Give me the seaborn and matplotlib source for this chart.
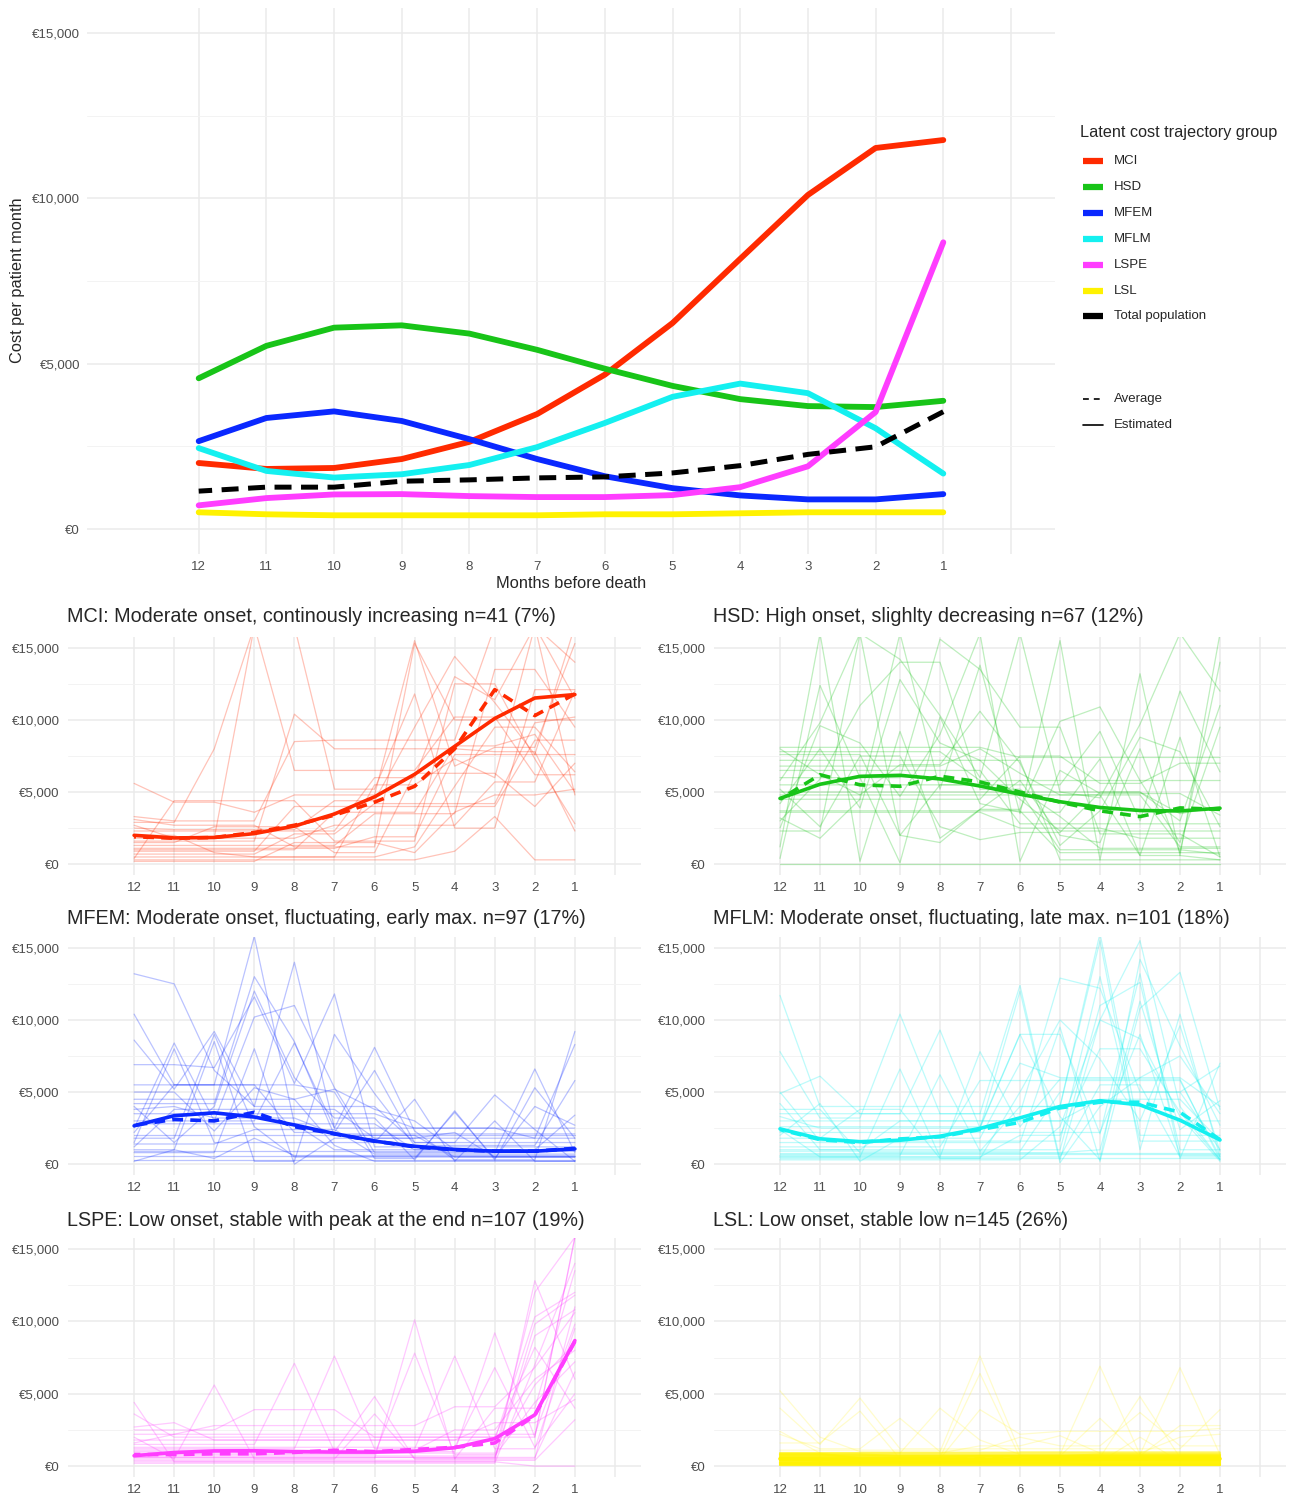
import pandas as pd
import matplotlib
matplotlib.use("Agg")
import matplotlib.pyplot as plt
from matplotlib.lines import Line2D
from matplotlib.ticker import FuncFormatter, FixedLocator
import seaborn as sns

MONTHS = [12, 11, 10, 9, 8, 7, 6, 5, 4, 3, 2, 1]
GROUPS = ["MCI", "HSD", "MFEM", "MFLM", "LSPE", "LSL"]
COLORS = {"MCI": "#FF2A00", "HSD": "#18C418", "MFEM": "#0A28FF",
          "MFLM": "#14F0F0", "LSPE": "#FF3DFF", "LSL": "#FFF200"}
TITLES = {
    "MCI": "MCI: Moderate onset, continously increasing n=41 (7%)",
    "HSD": "HSD: High onset, slighlty decreasing n=67 (12%)",
    "MFEM": "MFEM: Moderate onset, fluctuating, early max. n=97 (17%)",
    "MFLM": "MFLM: Moderate onset, fluctuating, late max. n=101 (18%)",
    "LSPE": "LSPE: Low onset, stable with peak at the end n=107 (19%)",
    "LSL": "LSL: Low onset, stable low n=145 (26%)",
}
LEGEND_LABELS = ["MCI", "HSD", "MFEM", "MFLM", "LSPE", "LSL", "Total population"]

# estimated cost trajectories, euro per patient month (month 12 -> 1)
EST_MCI = [2000, 1820, 1850, 2120, 2640, 3480, 4670, 6230, 8170, 10100, 11520, 11760]
EST_HSD = [4560, 5540, 6090, 6160, 5910, 5420, 4850, 4330, 3930, 3720, 3690, 3880]
EST_MFEM = [2660, 3360, 3560, 3270, 2720, 2120, 1600, 1240, 1020, 900, 900, 1060]
EST_MFLM = [2450, 1760, 1560, 1660, 1940, 2480, 3210, 4000, 4400, 4110, 3050, 1680]
EST_LSPE = [720, 940, 1050, 1060, 1000, 970, 970, 1030, 1270, 1900, 3540, 8670]
EST_LSL = [510, 450, 420, 420, 420, 420, 450, 450, 480, 510, 510, 510]
AVG_TOTAL = [1150, 1270, 1270, 1450, 1490, 1550, 1580, 1700, 1920, 2260, 2490, 3550]

# observed group averages, thousands of euro
AVG_MCI = [1.9, 1.8, 1.85, 2.2, 2.7, 3.4, 4.3, 5.4, 8.0, 12.1, 10.3, 11.8]
AVG_HSD = [4.5, 6.2, 5.5, 5.4, 6.1, 5.7, 5.0, 4.3, 3.7, 3.3, 3.9, 3.8]
AVG_MFEM = [2.7, 3.1, 3.0, 3.6, 2.6, 2.1, 1.6, 1.2, 1.0, 0.9, 0.9, 1.1]
AVG_MFLM = [2.4, 1.7, 1.5, 1.75, 1.9, 2.4, 2.9, 3.9, 4.3, 4.3, 3.6, 1.7]
AVG_LSPE = [0.8, 0.8, 0.85, 0.85, 0.95, 1.1, 1.0, 1.15, 1.3, 1.6, 3.5, 8.6]
AVG_LSL = [0.5, 0.45, 0.45, 0.45, 0.45, 0.5, 0.5, 0.5, 0.5, 0.5, 0.5, 0.5]

# individual patient trajectories (sample), thousands of euro
PAT_MCI = [
    [5.6, 4.3, 4.3, 3.6, 4.8, 4.8, 4.8, 15.5, 6.8, 8.1, 8.1, 15.3],
    [3.3, 3.0, 3.0, 3.0, 8.5, 8.6, 8.6, 8.6, 8.6, 16.5, 16.5, 4.8],
    [2.9, 2.9, 8.0, 16.5, 6.5, 6.5, 6.5, 6.5, 10.2, 10.2, 6.2, 6.2],
    [2.5, 2.4, 2.4, 2.4, 2.4, 4.4, 4.4, 9.5, 14.4, 11.2, 7.6, 7.6],
    [2.0, 2.0, 0.8, 0.5, 0.5, 0.5, 5.5, 5.5, 7.3, 6.0, 16.5, 11.5],
    [1.6, 1.6, 1.6, 1.6, 10.4, 8.0, 8.0, 8.0, 8.0, 7.8, 7.8, 2.3],
    [1.3, 1.3, 1.3, 1.3, 1.3, 1.3, 3.5, 3.5, 3.5, 13.5, 13.5, 9.5],
    [1.0, 1.0, 1.0, 1.0, 1.0, 3.6, 3.6, 3.6, 8.2, 8.2, 9.0, 5.0],
    [0.7, 0.7, 0.7, 0.7, 2.1, 2.1, 4.2, 4.2, 4.2, 4.2, 9.8, 10.2],
    [0.5, 0.5, 0.5, 0.5, 0.5, 0.5, 0.5, 1.2, 5.4, 9.5, 9.5, 6.4],
    [0.3, 0.3, 0.3, 0.3, 0.3, 0.3, 0.3, 0.3, 0.9, 3.3, 0.3, 0.3],
    [1.8, 1.8, 1.8, 1.8, 1.8, 2.7, 2.7, 2.7, 2.7, 5.7, 5.7, 12.0],
    [3.1, 2.7, 2.7, 2.7, 1.2, 1.2, 1.2, 15.3, 10.0, 10.0, 10.0, 10.0],
    [0.9, 0.9, 0.9, 0.9, 4.0, 4.0, 4.0, 4.0, 4.0, 4.0, 8.6, 8.6],
    [2.3, 2.3, 2.3, 2.3, 2.3, 2.3, 6.0, 6.0, 13.0, 11.4, 16.5, 14.0],
    [1.5, 1.5, 2.6, 2.6, 2.6, 0.8, 0.8, 6.3, 6.3, 6.3, 4.0, 7.0],
    [0.4, 4.4, 4.4, 4.4, 4.4, 1.6, 1.6, 1.6, 12.5, 12.5, 7.3, 2.8],
    [1.1, 1.1, 1.1, 1.1, 1.1, 1.1, 1.9, 1.9, 7.6, 7.6, 7.6, 16.5],
    [0.2, 0.2, 0.2, 0.2, 1.5, 1.5, 1.5, 0.8, 3.6, 4.8, 4.8, 5.2],
    [2.7, 1.8, 1.8, 16.5, 16.5, 5.2, 5.2, 11.8, 2.5, 2.5, 12.1, 12.1],
]
PAT_HSD = [
    [8.1, 8.1, 8.1, 8.1, 8.1, 8.1, 7.4, 7.4, 7.4, 7.4, 7.4, 7.4],
    [7.6, 7.6, 7.6, 2.0, 5.5, 5.5, 5.5, 5.5, 9.2, 3.0, 12.0, 6.4],
    [0.4, 12.4, 6.0, 6.0, 15.6, 13.5, 9.5, 9.5, 2.1, 2.1, 2.1, 0.5],
    [6.5, 6.5, 6.5, 6.5, 6.5, 6.5, 2.8, 2.8, 2.8, 2.8, 2.8, 2.8],
    [4.8, 4.8, 4.8, 4.8, 4.8, 4.8, 4.8, 4.8, 4.8, 4.8, 1.2, 1.2],
    [3.7, 3.7, 3.7, 3.7, 3.7, 3.7, 3.7, 0.8, 0.8, 0.8, 0.8, 0.8],
    [0.0, 0.0, 0.0, 0.0, 0.0, 0.0, 0.0, 0.0, 0.0, 0.0, 0.0, 0.0],
    [5.8, 9.8, 16.0, 14.2, 10.3, 6.0, 16.0, 5.0, 4.6, 9.7, 16.0, 12.0],
    [3.2, 1.8, 4.5, 16.0, 5.2, 13.8, 3.5, 15.5, 0.3, 13.2, 0.6, 16.0],
    [7.2, 7.2, 7.2, 7.2, 7.2, 7.2, 7.2, 0.3, 0.3, 0.3, 0.3, 0.3],
    [2.3, 2.3, 16.0, 2.0, 1.5, 3.8, 3.8, 9.9, 10.9, 5.8, 1.5, 9.5],
    [5.5, 5.5, 5.5, 5.5, 5.5, 5.5, 5.0, 5.0, 5.0, 5.0, 3.5, 4.0],
    [4.2, 8.0, 3.9, 12.8, 8.4, 7.2, 4.5, 2.3, 2.3, 2.3, 2.3, 2.3],
    [6.0, 6.0, 6.0, 0.1, 10.2, 4.2, 3.6, 3.6, 7.3, 0.6, 8.8, 0.5],
    [3.0, 5.9, 11.0, 14.0, 14.0, 5.2, 5.2, 3.3, 1.1, 1.1, 1.1, 1.1],
    [1.2, 16.0, 0.2, 9.2, 1.8, 3.8, 5.8, 2.0, 1.5, 8.0, 0.8, 14.0],
    [4.5, 4.5, 4.5, 4.5, 4.5, 4.5, 7.5, 7.5, 5.6, 5.6, 7.0, 7.0],
    [7.8, 7.8, 7.8, 7.8, 7.8, 5.8, 5.8, 5.8, 5.8, 5.8, 5.8, 5.8],
    [2.5, 9.6, 8.4, 4.7, 9.0, 16.0, 0.2, 6.5, 4.9, 4.9, 4.9, 3.4],
    [6.8, 6.8, 6.8, 6.8, 6.8, 8.0, 6.3, 4.8, 4.8, 0.6, 0.6, 0.3],
    [5.2, 2.6, 7.5, 7.5, 2.6, 1.7, 2.2, 2.2, 5.0, 5.0, 3.0, 11.0],
    [8.0, 6.2, 4.8, 6.9, 6.9, 10.6, 7.0, 1.3, 3.7, 8.8, 7.8, 2.6],
    [3.6, 3.6, 3.6, 3.6, 3.6, 3.6, 2.5, 2.5, 2.5, 1.8, 1.8, 1.8],
    [5.0, 5.0, 5.0, 5.0, 5.0, 5.0, 5.0, 1.0, 1.0, 1.0, 1.0, 0.7],
]
PAT_MFEM = [
    [13.2, 12.5, 6.5, 4.0, 4.0, 4.0, 4.0, 1.5, 1.5, 1.5, 1.5, 1.5],
    [10.4, 5.5, 5.5, 15.8, 2.8, 2.8, 2.8, 1.0, 1.0, 1.0, 1.0, 1.0],
    [8.6, 5.2, 9.2, 4.0, 14.0, 2.5, 8.1, 2.3, 0.3, 0.3, 0.3, 9.2],
    [6.9, 6.9, 6.7, 11.6, 5.6, 11.8, 1.2, 1.2, 1.2, 1.2, 1.2, 1.2],
    [4.2, 4.2, 4.2, 13.0, 8.5, 2.0, 2.0, 2.0, 0.5, 0.5, 0.5, 0.5],
    [5.5, 5.5, 5.5, 5.5, 2.2, 2.2, 6.5, 1.5, 1.5, 4.8, 2.4, 0.2],
    [3.5, 3.5, 3.5, 3.5, 3.5, 3.5, 3.5, 2.5, 2.5, 2.5, 2.5, 2.5],
    [2.5, 8.4, 3.0, 10.2, 11.0, 5.3, 0.8, 0.8, 0.8, 0.8, 6.6, 0.8],
    [1.0, 1.0, 8.5, 0.2, 0.2, 9.0, 4.9, 1.3, 1.3, 1.3, 1.3, 5.8],
    [0.6, 0.6, 0.6, 0.6, 0.6, 0.6, 0.6, 0.6, 0.6, 0.6, 0.6, 0.6],
    [2.0, 2.0, 2.0, 2.0, 2.0, 2.0, 2.0, 2.0, 2.0, 2.0, 2.0, 2.0],
    [4.0, 1.5, 4.0, 12.0, 6.0, 3.2, 3.2, 0.3, 3.7, 0.3, 5.3, 1.8],
    [0.3, 0.3, 0.3, 0.3, 0.3, 0.3, 0.3, 0.3, 0.3, 0.3, 0.3, 0.3],
    [1.5, 8.0, 1.5, 1.5, 1.5, 1.5, 1.5, 4.5, 0.2, 3.0, 0.2, 0.2],
    [3.0, 3.0, 3.0, 3.0, 8.4, 2.5, 2.5, 2.5, 2.5, 2.5, 1.8, 1.8],
    [5.0, 5.0, 2.3, 5.3, 4.5, 5.2, 3.8, 3.0, 1.0, 1.0, 1.0, 3.4],
    [0.8, 0.8, 0.8, 8.0, 0.0, 1.8, 1.8, 1.8, 2.2, 0.5, 0.5, 0.5],
    [1.2, 3.8, 3.8, 3.8, 3.8, 3.8, 1.8, 1.8, 1.8, 1.8, 1.8, 8.3],
    [2.8, 2.8, 2.8, 2.8, 2.8, 1.0, 1.0, 1.0, 1.0, 1.0, 1.0, 1.0],
    [4.5, 4.5, 4.5, 4.5, 4.5, 1.3, 0.2, 0.2, 0.2, 0.2, 0.2, 0.2],
    [0.2, 1.0, 0.4, 1.8, 0.6, 0.6, 0.6, 0.6, 0.6, 0.6, 0.6, 0.6],
    [2.2, 5.5, 5.5, 5.5, 5.5, 5.0, 0.4, 0.4, 3.6, 0.4, 4.0, 2.7],
    [1.8, 1.8, 9.0, 2.6, 0.5, 0.5, 0.5, 0.5, 0.5, 0.5, 0.5, 0.5],
    [3.8, 4.0, 3.2, 3.2, 3.2, 2.1, 2.1, 2.1, 2.1, 2.1, 2.1, 2.1],
    [0.9, 0.9, 0.9, 0.9, 0.9, 0.9, 0.9, 0.9, 0.9, 0.9, 0.9, 0.9],
    [1.4, 1.4, 1.4, 2.4, 2.4, 2.4, 0.7, 0.7, 0.7, 0.7, 0.7, 0.7],
]
PAT_MFLM = [
    [11.7, 4.0, 4.0, 4.0, 4.0, 4.0, 4.0, 4.0, 16.0, 2.0, 2.0, 2.0],
    [7.8, 3.2, 3.2, 10.4, 3.5, 3.5, 12.4, 0.3, 10.0, 15.5, 4.0, 0.3],
    [4.9, 6.1, 3.5, 3.5, 3.5, 3.5, 3.5, 12.9, 12.2, 5.0, 5.0, 1.0],
    [3.5, 3.5, 3.5, 3.5, 9.3, 2.5, 9.0, 9.0, 2.1, 13.2, 0.4, 7.0],
    [2.4, 0.5, 0.5, 6.6, 0.5, 7.8, 2.6, 5.9, 5.9, 5.9, 5.9, 0.3],
    [0.8, 0.8, 0.8, 0.8, 0.8, 0.8, 0.8, 0.8, 0.8, 0.8, 0.8, 0.8],
    [0.4, 0.4, 0.4, 0.4, 0.4, 0.4, 0.4, 0.4, 0.4, 0.4, 0.4, 0.4],
    [1.5, 1.5, 1.5, 1.5, 1.5, 1.5, 1.5, 9.5, 0.2, 10.8, 13.3, 3.8],
    [3.0, 3.0, 3.0, 3.0, 3.0, 3.0, 3.0, 3.0, 4.5, 4.5, 4.5, 1.6],
    [0.6, 0.6, 0.6, 0.6, 6.2, 0.9, 4.0, 4.0, 15.5, 1.0, 10.4, 0.5],
    [2.0, 4.2, 0.2, 1.8, 1.8, 1.8, 7.0, 6.0, 6.0, 6.0, 6.0, 4.0],
    [4.2, 1.0, 1.0, 1.0, 1.0, 1.0, 1.0, 1.0, 11.0, 12.6, 1.0, 1.0],
    [1.2, 1.2, 1.2, 1.2, 1.2, 5.8, 5.8, 5.8, 5.8, 5.8, 5.8, 0.5],
    [0.3, 0.3, 0.3, 0.3, 0.3, 0.3, 0.3, 2.6, 10.0, 8.7, 3.3, 0.2],
    [2.6, 2.6, 2.6, 2.6, 2.6, 2.6, 9.0, 3.3, 0.3, 14.2, 8.2, 2.7],
    [1.8, 1.8, 3.8, 3.8, 0.4, 0.4, 5.0, 10.0, 7.3, 3.0, 9.6, 0.9],
    [0.9, 0.9, 0.9, 0.9, 0.9, 0.9, 0.9, 5.0, 5.0, 5.0, 5.0, 6.8],
    [3.8, 3.8, 0.8, 0.8, 0.8, 0.8, 0.8, 0.8, 1.0, 11.3, 2.4, 4.4],
    [5.0, 1.6, 1.6, 1.6, 1.6, 1.6, 1.6, 1.6, 13.0, 1.6, 1.6, 1.6],
    [0.5, 0.5, 0.5, 0.5, 0.5, 0.5, 2.0, 2.0, 8.0, 8.0, 3.6, 0.3],
    [2.2, 2.2, 2.2, 2.2, 2.2, 2.2, 2.2, 2.2, 2.2, 9.0, 0.6, 0.6],
    [1.0, 1.0, 1.0, 3.0, 3.0, 3.0, 3.0, 3.0, 3.0, 3.0, 3.0, 3.0],
    [3.3, 2.5, 2.5, 2.5, 2.5, 2.5, 12.0, 0.1, 4.0, 6.0, 7.5, 3.5],
    [0.7, 0.7, 0.7, 0.7, 0.7, 0.7, 0.7, 0.7, 0.7, 0.7, 0.7, 0.7],
    [0.5, 0.5, 0.5, 0.5, 0.5, 0.5, 0.5, 0.5, 5.5, 5.5, 0.5, 0.5],
]
PAT_LSPE = [
    [4.4, 0.3, 0.3, 0.3, 0.3, 0.3, 0.3, 0.3, 0.3, 0.3, 12.8, 6.0],
    [3.6, 2.0, 2.0, 2.0, 2.0, 2.0, 2.0, 2.0, 2.0, 2.0, 2.0, 15.8],
    [2.7, 3.0, 1.8, 1.8, 1.8, 1.8, 1.8, 1.8, 1.8, 1.8, 10.3, 12.0],
    [2.5, 2.5, 2.5, 3.9, 3.9, 3.9, 2.0, 2.0, 2.0, 2.0, 8.2, 4.0],
    [2.0, 0.5, 5.6, 0.5, 0.5, 0.5, 0.5, 10.1, 0.5, 0.5, 0.5, 11.0],
    [1.5, 1.5, 1.5, 1.5, 7.1, 1.0, 1.0, 1.0, 1.0, 9.2, 2.0, 15.8],
    [1.2, 1.2, 1.2, 1.2, 1.2, 7.6, 1.2, 1.2, 7.6, 1.2, 1.2, 9.5],
    [1.0, 1.0, 1.0, 1.0, 1.0, 1.0, 4.8, 0.5, 0.5, 4.0, 4.0, 13.5],
    [0.8, 0.8, 0.8, 0.8, 0.8, 0.8, 0.8, 7.8, 0.8, 0.8, 5.6, 8.5],
    [0.6, 0.6, 0.6, 0.6, 0.6, 0.6, 0.6, 0.6, 0.6, 0.6, 0.6, 6.5],
    [0.4, 0.4, 0.4, 0.4, 0.4, 0.4, 0.4, 0.4, 0.4, 0.4, 0.4, 3.2],
    [0.3, 0.3, 0.3, 0.3, 0.3, 0.3, 0.3, 0.3, 0.3, 0.3, 0.0, 0.0],
    [0.9, 0.9, 0.9, 0.9, 0.9, 0.9, 0.9, 0.9, 0.9, 0.9, 12.0, 15.8],
    [1.6, 2.2, 2.8, 2.8, 2.8, 2.8, 2.8, 2.8, 4.1, 4.1, 6.8, 10.6],
    [0.5, 0.5, 0.5, 0.5, 0.5, 0.5, 3.6, 0.5, 0.5, 0.5, 9.8, 11.8],
    [1.3, 1.3, 1.3, 1.3, 1.3, 1.3, 1.3, 1.3, 1.3, 6.8, 1.3, 5.0],
    [0.7, 0.7, 0.7, 0.7, 0.7, 0.7, 0.7, 0.7, 0.7, 0.7, 4.4, 7.2],
    [2.2, 2.2, 2.2, 2.2, 2.2, 2.2, 2.2, 2.2, 2.2, 2.2, 2.2, 9.8],
    [1.8, 1.8, 1.8, 1.8, 1.8, 1.8, 1.8, 1.8, 1.8, 3.0, 3.0, 4.6],
    [0.2, 0.2, 0.2, 0.2, 0.2, 0.2, 0.2, 0.2, 0.2, 0.2, 7.0, 14.0],
    [0.6, 0.6, 0.6, 0.6, 0.6, 0.6, 0.6, 0.6, 0.6, 0.6, 9.0, 10.8],
    [1.1, 1.1, 1.1, 1.1, 1.1, 1.1, 1.1, 1.1, 2.5, 2.5, 6.0, 8.0],
]
PAT_LSL = [
    [5.2, 2.0, 1.0, 1.0, 1.0, 1.0, 1.0, 1.0, 1.0, 1.0, 1.0, 1.0],
    [4.0, 1.5, 4.7, 1.2, 1.2, 1.2, 1.2, 1.2, 1.2, 1.2, 1.2, 3.9],
    [2.2, 1.2, 1.2, 3.3, 1.0, 7.6, 1.0, 1.0, 1.0, 1.0, 1.0, 1.0],
    [0.9, 0.9, 0.9, 0.9, 4.0, 1.8, 0.8, 0.8, 6.9, 0.8, 0.8, 0.8],
    [0.8, 0.8, 0.8, 0.8, 0.8, 0.8, 0.8, 0.8, 0.8, 0.8, 6.8, 0.8],
    [0.6, 0.6, 0.6, 0.6, 0.6, 6.4, 0.6, 0.6, 0.6, 4.8, 0.6, 0.6],
    [1.6, 1.6, 3.8, 0.5, 0.5, 3.9, 2.2, 2.4, 2.4, 2.4, 2.4, 2.6],
    [0.7, 0.7, 0.7, 0.7, 0.7, 0.7, 0.7, 0.7, 3.3, 0.7, 2.8, 2.8],
    [1.1, 1.1, 1.1, 1.1, 1.1, 1.1, 2.0, 1.4, 1.4, 3.7, 1.4, 1.4],
    [2.4, 0.9, 0.9, 0.9, 0.9, 1.4, 1.4, 2.1, 0.9, 0.9, 2.0, 2.2],
    [0.3, 0.3, 0.3, 0.3, 0.3, 0.3, 0.3, 0.3, 0.3, 2.0, 0.3, 0.3],
]
# the dense low band of stable patients
PAT_LSL_FLAT = [
    [0.5, 0.5, 0.5, 0.5, 0.5, 0.5, 0.5, 0.5, 0.5, 0.5, 0.5, 0.5],
    [0.4, 0.4, 0.4, 0.4, 0.4, 0.4, 0.4, 0.4, 0.4, 0.4, 0.4, 0.4],
    [0.3, 0.3, 0.3, 0.3, 0.3, 0.3, 0.3, 0.3, 0.3, 0.3, 0.3, 0.3],
    [0.2, 0.2, 0.2, 0.2, 0.2, 0.2, 0.2, 0.2, 0.2, 0.2, 0.2, 0.2],
    [0.1, 0.1, 0.1, 0.1, 0.1, 0.1, 0.1, 0.1, 0.1, 0.1, 0.1, 0.1],
    [0.65, 0.65, 0.6, 0.6, 0.6, 0.7, 0.7, 0.7, 0.7, 0.7, 0.7, 0.7],
    [0.45, 0.45, 0.45, 0.35, 0.35, 0.35, 0.55, 0.55, 0.55, 0.55, 0.55, 0.55],
    [0.25, 0.25, 0.25, 0.25, 0.25, 0.25, 0.35, 0.35, 0.35, 0.35, 0.35, 0.35],
    [0.85, 0.85, 0.55, 0.55, 0.55, 0.55, 0.55, 0.55, 0.6, 0.6, 0.6, 0.6],
    [0.15, 0.15, 0.15, 0.15, 0.15, 0.15, 0.15, 0.15, 0.15, 0.15, 0.15, 0.15],
    [0.75, 0.75, 0.75, 0.75, 0.75, 0.75, 0.75, 0.75, 0.75, 0.75, 0.75, 0.75],
    [0.55, 0.55, 0.5, 0.5, 0.5, 0.45, 0.45, 0.6, 0.6, 0.6, 0.6, 0.6],
    [0.05, 0.05, 0.05, 0.05, 0.05, 0.05, 0.05, 0.05, 0.05, 0.05, 0.05, 0.05],
    [0.35, 0.35, 0.35, 0.35, 0.35, 0.35, 0.35, 0.35, 0.35, 0.35, 0.35, 0.35],
    [0.6, 0.6, 0.6, 0.6, 0.6, 0.6, 0.65, 0.65, 0.65, 0.65, 0.65, 0.65],
    [0.8, 0.8, 0.8, 0.7, 0.7, 0.7, 0.7, 0.7, 0.8, 0.8, 0.8, 0.8],
    [0.9, 0.9, 0.9, 0.9, 0.9, 0.9, 0.9, 0.9, 0.9, 0.9, 0.9, 0.9],
    [0.7, 0.7, 0.7, 0.7, 0.7, 0.7, 0.7, 0.7, 0.7, 0.7, 0.7, 0.7],
    [0.45, 0.45, 0.45, 0.45, 0.45, 0.45, 0.45, 0.45, 0.45, 0.45, 0.45, 0.45],
    [0.25, 0.25, 0.25, 0.25, 0.25, 0.25, 0.25, 0.25, 0.25, 0.25, 0.25, 0.25],
    [0.15, 0.15, 0.2, 0.2, 0.2, 0.2, 0.2, 0.2, 0.1, 0.1, 0.1, 0.1],
    [0.55, 0.55, 0.55, 0.55, 0.55, 0.55, 0.55, 0.55, 0.55, 0.55, 0.55, 0.55],
]

EST = {"MCI": EST_MCI, "HSD": EST_HSD, "MFEM": EST_MFEM,
       "MFLM": EST_MFLM, "LSPE": EST_LSPE, "LSL": EST_LSL}
AVG = {"MCI": AVG_MCI, "HSD": AVG_HSD, "MFEM": AVG_MFEM,
       "MFLM": AVG_MFLM, "LSPE": AVG_LSPE, "LSL": AVG_LSL}
PAT = {"MCI": PAT_MCI, "HSD": PAT_HSD, "MFEM": PAT_MFEM,
       "MFLM": PAT_MFLM, "LSPE": PAT_LSPE, "LSL": PAT_LSL}

W, H = 1295, 1496


def fx(px):
    return px / W


def fy(py):
    return 1 - py / H


def axes_box(left, right, top, bottom):
    return [fx(left), fy(bottom), (right - left) / W, (bottom - top) / H]


def patients_frame(rows):
    recs = []
    for pid, row in enumerate(rows):
        for m, v in zip(MONTHS, row):
            recs.append((pid, m, v * 1000))
    return pd.DataFrame(recs, columns=["pid", "month", "cost"])


def style_axes(ax, ypad, xpad):
    ax.set_xlim(13.65, -0.65)
    ax.set_ylim(-750, 15750)
    ax.set_xticks(list(range(0, 13)))
    ax.set_xticklabels([""] + [str(i) for i in range(1, 13)])
    ax.set_yticks([0, 5000, 10000, 15000])
    ax.yaxis.set_minor_locator(FixedLocator([2500, 7500, 12500]))
    ax.yaxis.set_major_formatter(FuncFormatter(lambda v, p: f"€{v:,.0f}"))
    ax.grid(which="major", color="#EBEBEB", lw=1.1)
    ax.grid(which="minor", axis="y", color="#F3F3F3", lw=0.7)
    ax.set_axisbelow(True)
    ax.tick_params(axis="both", which="both", length=0, labelsize=9.5,
                   labelcolor="#4D4D4D")
    ax.tick_params(axis="y", pad=ypad)
    ax.tick_params(axis="x", pad=xpad)
    for s in ax.spines.values():
        s.set_visible(False)
    ax.set_xlabel("")
    ax.set_ylabel("")
    ax.set_facecolor("white")


def draw_top(fig):
    ax = fig.add_axes(axes_box(87, 1055, 8, 554))
    est = pd.DataFrame([(g, m, v) for g in GROUPS for m, v in zip(MONTHS, EST[g])],
                       columns=["group", "month", "cost"])
    sns.lineplot(data=est, x="month", y="cost", hue="group", hue_order=GROUPS,
                 palette=COLORS, lw=4.2, legend=False, ax=ax)
    tot = pd.DataFrame({"month": MONTHS, "cost": AVG_TOTAL})
    sns.lineplot(data=tot, x="month", y="cost", color="black", lw=3.6, ax=ax)
    ax.lines[-1].set_dashes([3.4, 1.9])
    style_axes(ax, ypad=5, xpad=5)

    fig.text(fx(18), fy(280), "Cost per patient month", rotation=90,
             ha="center", va="center", fontsize=11.8)
    fig.text(fx(571), fy(584), "Months before death", ha="center",
             va="center", fontsize=11.8)

    # legend
    fig.text(fx(1080), fy(133), "Latent cost trajectory group", ha="left",
             va="center", fontsize=11.7)
    colors = [COLORS[g] for g in GROUPS] + ["black"]
    for i, (lab, c) in enumerate(zip(LEGEND_LABELS, colors)):
        y = fy(161 + 25.9 * i)
        fig.add_artist(Line2D([fx(1083), fx(1103)], [y, y], color=c, lw=4.5,
                              transform=fig.transFigure, solid_capstyle="butt"))
        fig.text(fx(1114), y, lab, ha="left", va="center", fontsize=9.5)
    for i, (lab, ls) in enumerate([("Average", (0, (3.5, 3))), ("Estimated", "-")]):
        y = fy(399 + 26 * i)
        fig.add_artist(Line2D([fx(1083), fx(1103)], [y, y], color="black", lw=1.2,
                              ls=ls, transform=fig.transFigure))
        fig.text(fx(1114), y, lab, ha="left", va="center", fontsize=9.5)


def draw_group(fig, g, box, title_xy):
    ax = fig.add_axes(box)
    c = COLORS[g]
    alpha = 0.2 if g == "LSL" else 0.28
    sns.lineplot(data=patients_frame(PAT[g]), x="month", y="cost", units="pid",
                 estimator=None, color=c, alpha=alpha, lw=0.9, legend=False, ax=ax)
    if g == "LSL":
        sns.lineplot(data=patients_frame(PAT_LSL_FLAT), x="month", y="cost",
                     units="pid", estimator=None, color=c, alpha=0.6, lw=1.6,
                     legend=False, ax=ax)
    avg = pd.DataFrame({"month": MONTHS, "cost": [v * 1000 for v in AVG[g]]})
    sns.lineplot(data=avg, x="month", y="cost", color=c, lw=2.6, ax=ax)
    ax.lines[-1].set_dashes([3.0, 2.0])
    est = pd.DataFrame({"month": MONTHS, "cost": EST[g]})
    sns.lineplot(data=est, x="month", y="cost", color=c, lw=2.6, ax=ax)
    style_axes(ax, ypad=6, xpad=5)
    fig.text(fx(title_xy[0]), fy(title_xy[1]), TITLES[g], ha="left",
             va="center", fontsize=14.2)


def main():
    sns.set_theme(style="whitegrid")
    plt.rcParams["font.family"] = ["Liberation Sans", "DejaVu Sans"]
    fig = plt.figure(figsize=(W / 100, H / 100), dpi=100)
    fig.patch.set_facecolor("white")
    draw_top(fig)

    rows = [(637, 875, 617), (937, 1175, 919), (1238, 1477, 1221)]
    cols = [(68, 641, 67), (714, 1286, 713)]
    for i, g in enumerate(GROUPS):
        top, bottom, ty = rows[i // 2]
        left, right, tx = cols[i % 2]
        draw_group(fig, g, axes_box(left, right, top, bottom), (tx, ty))

    fig.savefig("out.png", dpi=100, facecolor="white")


if __name__ == "__main__":
    main()
